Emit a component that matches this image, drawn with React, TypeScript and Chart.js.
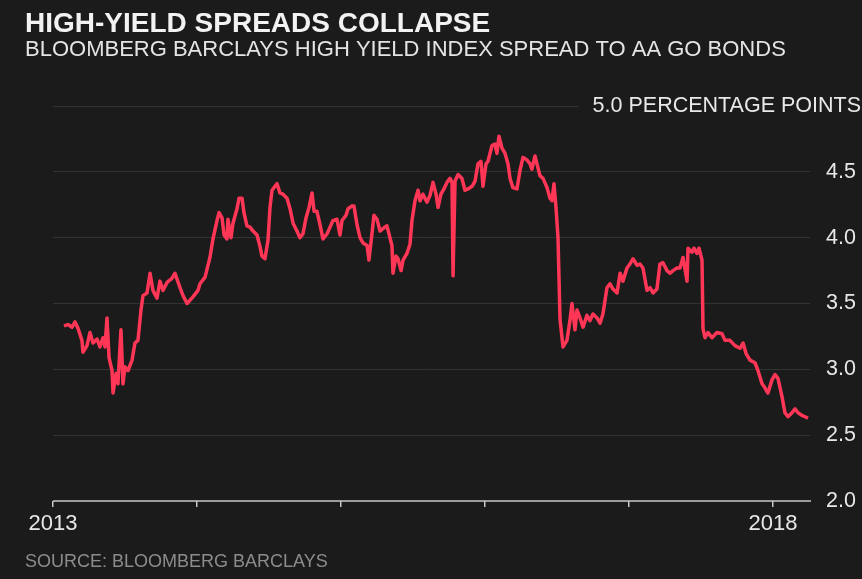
import React, { useEffect, useRef } from "react";
import { Chart, registerables } from "chart.js";

Chart.register(...registerables);

// Decimal-year dates and spread values (percentage points)
const dates: number[] = [
  2013.076, 2013.104, 2013.132, 2013.153, 2013.174, 2013.201, 2013.208, 2013.236, 2013.257, 2013.278,
  2013.306, 2013.326, 2013.347, 2013.361, 2013.375, 2013.389, 2013.410, 2013.417, 2013.438, 2013.451,
  2013.472, 2013.486, 2013.500, 2013.521, 2013.549, 2013.569, 2013.590, 2013.611, 2013.625, 2013.653,
  2013.674, 2013.694, 2013.722, 2013.743, 2013.764, 2013.792, 2013.826, 2013.847, 2013.882, 2013.903,
  2013.931, 2013.972, 2014.007, 2014.021, 2014.056, 2014.090, 2014.111, 2014.139, 2014.153, 2014.174,
  2014.188, 2014.208, 2014.215, 2014.236, 2014.250, 2014.278, 2014.292, 2014.313, 2014.326, 2014.347,
  2014.368, 2014.389, 2014.417, 2014.438, 2014.451, 2014.472, 2014.493, 2014.507, 2014.521, 2014.556,
  2014.576, 2014.597, 2014.625, 2014.646, 2014.667, 2014.694, 2014.715, 2014.736, 2014.757, 2014.778,
  2014.799, 2014.813, 2014.833, 2014.854, 2014.875, 2014.903, 2014.924, 2014.944, 2014.972, 2014.993,
  2015.007, 2015.035, 2015.049, 2015.076, 2015.090, 2015.111, 2015.132, 2015.153, 2015.181, 2015.194,
  2015.215, 2015.229, 2015.250, 2015.271, 2015.292, 2015.319, 2015.333, 2015.354, 2015.361, 2015.382,
  2015.396, 2015.417, 2015.431, 2015.458, 2015.479, 2015.493, 2015.514, 2015.535, 2015.549, 2015.569,
  2015.597, 2015.618, 2015.639, 2015.660, 2015.674, 2015.694, 2015.715, 2015.736, 2015.757, 2015.771,
  2015.778, 2015.792, 2015.813, 2015.840, 2015.861, 2015.882, 2015.910, 2015.931, 2015.951, 2015.972,
  2015.986, 2016.007, 2016.021, 2016.049, 2016.069, 2016.083, 2016.097, 2016.118, 2016.139, 2016.160,
  2016.174, 2016.194, 2016.222, 2016.243, 2016.264, 2016.292, 2016.313, 2016.326, 2016.347, 2016.368,
  2016.382, 2016.403, 2016.431, 2016.451, 2016.465, 2016.479, 2016.493, 2016.507, 2016.521, 2016.542,
  2016.569, 2016.590, 2016.604, 2016.625, 2016.639, 2016.660, 2016.681, 2016.708, 2016.729, 2016.750,
  2016.778, 2016.799, 2016.819, 2016.847, 2016.868, 2016.889, 2016.917, 2016.938, 2016.958, 2016.986,
  2017.007, 2017.028, 2017.056, 2017.076, 2017.097, 2017.125, 2017.146, 2017.167, 2017.194, 2017.215,
  2017.236, 2017.264, 2017.285, 2017.306, 2017.333, 2017.354, 2017.375, 2017.403, 2017.410, 2017.438,
  2017.451, 2017.472, 2017.486, 2017.507, 2017.514, 2017.528, 2017.549, 2017.576, 2017.611, 2017.646,
  2017.667, 2017.701, 2017.736, 2017.771, 2017.792, 2017.813, 2017.840, 2017.875, 2017.896, 2017.924,
  2017.944, 2017.965, 2017.993, 2018.014, 2018.035, 2018.063, 2018.083, 2018.104, 2018.132, 2018.153,
  2018.174, 2018.201, 2018.222, 2018.243,
];

const spread: number[] = [
  3.33, 3.34, 3.32, 3.36, 3.31, 3.22, 3.13, 3.18, 3.28, 3.20,
  3.23, 3.17, 3.24, 3.17, 3.39, 3.09, 2.99, 2.82, 2.97, 2.89,
  3.30, 2.89, 3.02, 2.99, 3.07, 3.20, 3.22, 3.45, 3.56, 3.58,
  3.73, 3.60, 3.54, 3.67, 3.60, 3.66, 3.69, 3.73, 3.62, 3.56,
  3.50, 3.55, 3.60, 3.65, 3.70, 3.85, 3.99, 4.13, 4.19, 4.15,
  4.02, 3.99, 4.14, 4.00, 4.11, 4.22, 4.30, 4.30, 4.19, 4.09,
  4.08, 4.05, 4.02, 3.93, 3.86, 3.84, 3.98, 4.23, 4.36, 4.41,
  4.34, 4.33, 4.30, 4.22, 4.11, 4.05, 4.00, 4.03, 4.15, 4.23,
  4.34, 4.20, 4.20, 4.10, 3.99, 4.03, 4.08, 4.13, 4.14, 4.02,
  4.13, 4.17, 4.22, 4.24, 4.24, 4.10, 4.00, 3.96, 3.94, 3.83,
  4.03, 4.17, 4.14, 4.05, 4.07, 4.09, 4.03, 3.94, 3.73, 3.86,
  3.84, 3.75, 3.83, 3.88, 3.95, 4.13, 4.28, 4.36, 4.28, 4.33,
  4.27, 4.32, 4.42, 4.33, 4.23, 4.33, 4.37, 4.42, 4.45, 4.42,
  3.71, 4.43, 4.48, 4.45, 4.36, 4.37, 4.39, 4.43, 4.56, 4.58,
  4.39, 4.56, 4.58, 4.70, 4.71, 4.64, 4.77, 4.68, 4.64, 4.56,
  4.45, 4.38, 4.37, 4.51, 4.61, 4.59, 4.56, 4.52, 4.62, 4.53,
  4.47, 4.45, 4.38, 4.30, 4.28, 4.41, 4.23, 4.00, 3.38, 3.17,
  3.22, 3.37, 3.50, 3.30, 3.45, 3.39, 3.32, 3.41, 3.37, 3.42,
  3.39, 3.35, 3.42, 3.62, 3.65, 3.61, 3.58, 3.73, 3.67, 3.77,
  3.80, 3.84, 3.79, 3.80, 3.77, 3.60, 3.62, 3.58, 3.61, 3.80,
  3.81, 3.75, 3.73, 3.75, 3.77, 3.77, 3.85, 3.67, 3.92, 3.89,
  3.92, 3.88, 3.92, 3.83, 3.31, 3.24, 3.28, 3.24, 3.28, 3.27,
  3.22, 3.22, 3.18, 3.16, 3.20, 3.12, 3.07, 3.05, 2.99, 2.89,
  2.86, 2.82, 2.92, 2.96, 2.93, 2.79, 2.67, 2.64, 2.67, 2.70,
  2.67, 2.65, 2.64, 2.63,
];

const yTickValues: number[] = [2.0, 2.5, 3.0, 3.5, 4.0, 4.5, 5.0];
const xTickYears: number[] = [2013, 2014, 2015, 2016, 2017, 2018];
const xLabelYears: number[] = [2013, 2018];

const TITLE = "HIGH-YIELD SPREADS COLLAPSE";
const SUBTITLE = "BLOOMBERG BARCLAYS HIGH YIELD INDEX SPREAD TO AA GO BONDS";
const SOURCE = "SOURCE: BLOOMBERG BARCLAYS";
const UNIT = "PERCENTAGE POINTS";

const BG = "#1b1b1b";
const LINE = "#ff3656";
const GRID = "#333333";
const FONT = "'Liberation Sans', Arial, Helvetica, sans-serif";

const decorPlugin = {
  id: "decor",
  beforeDraw(chart: any) {
    const { ctx, width, height } = chart;
    ctx.save();
    ctx.fillStyle = BG;
    ctx.fillRect(0, 0, width, height);
    ctx.restore();
  },
  beforeDatasetsDraw(chart: any) {
    const { ctx, chartArea, scales } = chart;
    const x = scales.x;
    const y = scales.y;
    ctx.save();
    // Titles
    ctx.textAlign = "left";
    ctx.textBaseline = "alphabetic";
    ctx.fillStyle = "#f2f2f2";
    ctx.font = `bold 28px ${FONT}`;
    ctx.fillText(TITLE, 25, 32);
    ctx.fillStyle = "#e4e4e4";
    ctx.font = `22px ${FONT}`;
    ctx.fillText(SUBTITLE, 25, 56);
    ctx.fillStyle = "#8c8c8c";
    ctx.font = `18px ${FONT}`;
    ctx.fillText(SOURCE, 25, 567);

    // Top tick label with unit
    const topVal = yTickValues[yTickValues.length - 1];
    const yTop = y.getPixelForValue(topVal);
    ctx.font = `21.5px ${FONT}`;
    ctx.fillStyle = "#e8e8e8";
    ctx.textAlign = "right";
    ctx.textBaseline = "middle";
    const label = `${topVal.toFixed(1)} ${UNIT}`;
    ctx.fillText(label, 861, yTop);
    const tw = ctx.measureText(label).width;
    ctx.strokeStyle = GRID;
    ctx.lineWidth = 1;
    ctx.beginPath();
    ctx.moveTo(chartArea.left, Math.round(yTop) + 0.5);
    ctx.lineTo(861 - tw - 14, Math.round(yTop) + 0.5);
    ctx.stroke();

    // Bottom axis line
    const yb = y.getPixelForValue(yTickValues[0]);
    ctx.strokeStyle = "#c8c8c8";
    ctx.lineWidth = 1.5;
    ctx.beginPath();
    ctx.moveTo(x.getPixelForValue(xTickYears[0]), yb);
    ctx.lineTo(chartArea.right + 1, yb);
    ctx.stroke();
    ctx.restore();
  },
};

export default function App() {
  const ref = useRef<HTMLCanvasElement>(null);
  useEffect(() => {
    document.body.style.margin = "0";
    document.body.style.background = BG;
    const chart = new Chart(ref.current as HTMLCanvasElement, {
      type: "line",
      data: {
        datasets: [
          {
            data: dates.map((d, i) => ({ x: d, y: spread[i] })),
            borderColor: LINE,
            borderWidth: 3.5,
            borderJoinStyle: "round",
            pointRadius: 0,
            tension: 0,
            fill: false,
          },
        ],
      },
      options: {
        animation: false,
        responsive: false,
        events: [],
        layout: { padding: { left: 53, top: 106, right: 0, bottom: 0 } },
        plugins: {
          legend: { display: false },
          tooltip: { enabled: false },
          title: { display: false },
        },
        scales: {
          x: {
            type: "linear",
            min: 2013,
            max: 2018.257,
            afterBuildTicks: (s: any) => {
              s.ticks = xTickYears.map((v) => ({ value: v }));
            },
            afterFit: (s: any) => {
              s.height = 78;
            },
            border: { display: false },
            grid: {
              drawOnChartArea: false,
              drawTicks: true,
              tickLength: 6,
              color: "#c8c8c8",
              lineWidth: 1.5,
            },
            ticks: {
              autoSkip: false,
              maxRotation: 0,
              padding: 4,
              color: "#e8e8e8",
              font: { family: FONT, size: 22 },
              callback: (v: any) => (xLabelYears.includes(Number(v)) ? String(v) : ""),
            },
          },
          y: {
            type: "linear",
            position: "right",
            min: 2,
            max: 5,
            afterBuildTicks: (s: any) => {
              s.ticks = yTickValues.map((v) => ({ value: v }));
            },
            afterFit: (s: any) => {
              s.width = 52;
            },
            border: { display: false },
            grid: {
              drawTicks: false,
              lineWidth: 1,
              color: (c: any) =>
                c.tick && (c.tick.value === yTickValues[0] || c.tick.value === yTickValues[yTickValues.length - 1])
                  ? "rgba(0,0,0,0)"
                  : GRID,
            },
            ticks: {
              crossAlign: "near",
              padding: 16,
              color: "#e8e8e8",
              font: { family: FONT, size: 21.5 },
              callback: (v: any) =>
                Number(v) === yTickValues[yTickValues.length - 1] ? "" : Number(v).toFixed(1),
            },
          },
        },
      },
      plugins: [decorPlugin],
    });
    return () => chart.destroy();
  }, []);
  return <canvas ref={ref} width={862} height={579} style={{ display: "block" }} />;
}
